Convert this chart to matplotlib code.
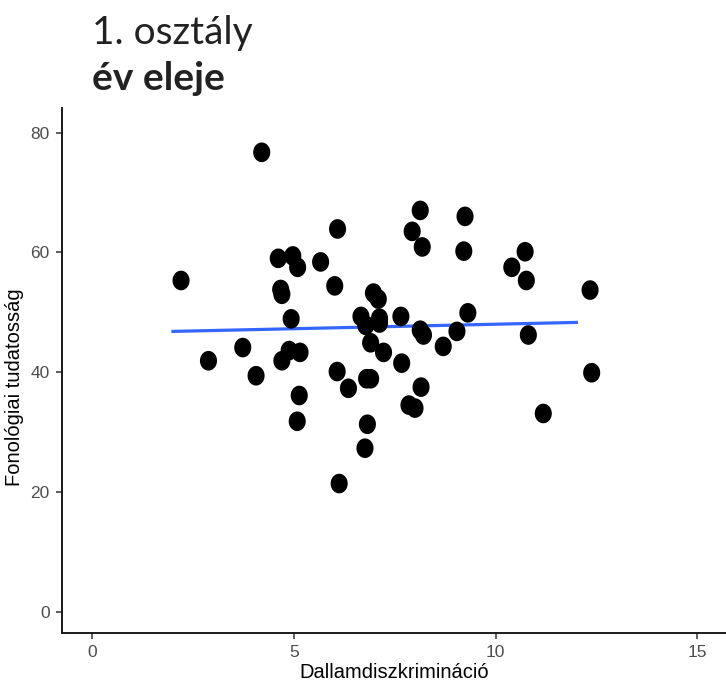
import numpy as np
import matplotlib
matplotlib.use("Agg")
import matplotlib.pyplot as plt
from matplotlib.path import Path

# adatok (leolvasva az abrarol)
dallam = [4.20, 2.20, 6.08, 4.61, 4.97, 5.09, 5.66, 6.01, 4.67, 4.70,
          4.93, 3.73, 2.88, 4.06, 4.88, 4.70, 5.15, 6.07, 6.35, 5.13,
          5.08, 6.12, 8.13, 7.93, 8.18, 9.24, 9.21, 10.73, 10.40, 10.76,
          6.97, 7.09, 9.31, 6.66, 7.12, 7.12, 7.65, 6.78, 8.13, 8.21,
          9.04, 10.81, 6.90, 7.22, 8.70, 7.67, 6.80, 6.90, 8.15, 7.85,
          8.00, 6.82, 6.76, 11.18, 12.34, 12.38]
fonologia = [76.7, 55.3, 63.9, 59.0, 59.4, 57.5, 58.4, 54.4, 53.8, 53.0,
             48.9, 44.1, 41.9, 39.4, 43.6, 41.9, 43.3, 40.1, 37.3, 36.1,
             31.8, 21.4, 67.0, 63.5, 60.9, 66.0, 60.2, 60.1, 57.5, 55.3,
             53.2, 52.2, 49.9, 49.3, 49.0, 48.2, 49.3, 47.8, 47.0, 46.2,
             46.8, 46.2, 44.9, 43.3, 44.3, 41.5, 38.9, 38.9, 37.5, 34.5,
             34.0, 31.3, 27.3, 33.1, 53.7, 39.9]

# illesztett egyenes vegpontjai
illesztes_x = [2.0, 12.0]
illesztes_y = [46.8, 48.3]

x_ticks = [0, 5, 10, 15]
y_ticks = [0, 20, 40, 60, 80]

betu = ['Liberation Sans', 'DejaVu Sans']

# kicsit megnyujtott kor alaku marker
t = np.linspace(0, 2 * np.pi, 40)
ellipszis = Path(np.column_stack([np.cos(t) * 0.87, np.sin(t)]))

fig = plt.figure(figsize=(7.26, 6.93), dpi=100)
ax = fig.add_axes([0.0858, 0.087, 0.9142, 0.7572])

ax.scatter(dallam, fonologia, s=200, marker=ellipszis, color='black',
           edgecolors='none', zorder=3)
ax.plot(illesztes_x, illesztes_y, color='#3366FF', linewidth=2.3, zorder=2)

ax.set_xlim(-0.744, 15.71)
ax.set_ylim(-3.5, 84.1)
ax.set_xticks(x_ticks)
ax.set_yticks(y_ticks)
ax.set_xticklabels([str(v) for v in x_ticks], family=betu, fontsize=12.5, color='#4D4D4D')
ax.set_yticklabels([str(v) for v in y_ticks], family=betu, fontsize=12.5, color='#4D4D4D')
ax.tick_params(length=4, width=1.1, color='#333333', pad=5)

for s in ['top', 'right']:
    ax.spines[s].set_visible(False)
for s in ['left', 'bottom']:
    ax.spines[s].set_linewidth(1.4)
    ax.spines[s].set_color('#1a1a1a')

ax.set_xlabel('Dallamdiszkrimináció', family=betu, fontsize=14.5, labelpad=2)
ax.set_ylabel('Fonológiai tudatosság', family=betu, fontsize=14.5)
ax.yaxis.set_label_coords(-0.058, 0.467)

# cim
fig.text(0.127, 0.936, '1. osztály', family=['Lato', 'DejaVu Sans'], fontsize=28,
         color='#222222', va='baseline', ha='left')
fig.text(0.127, 0.870, 'év eleje', family=['Lato', 'DejaVu Sans'], fontsize=28,
         fontweight='bold', color='#222222', va='baseline', ha='left')

fig.savefig('out.png', dpi=100)
